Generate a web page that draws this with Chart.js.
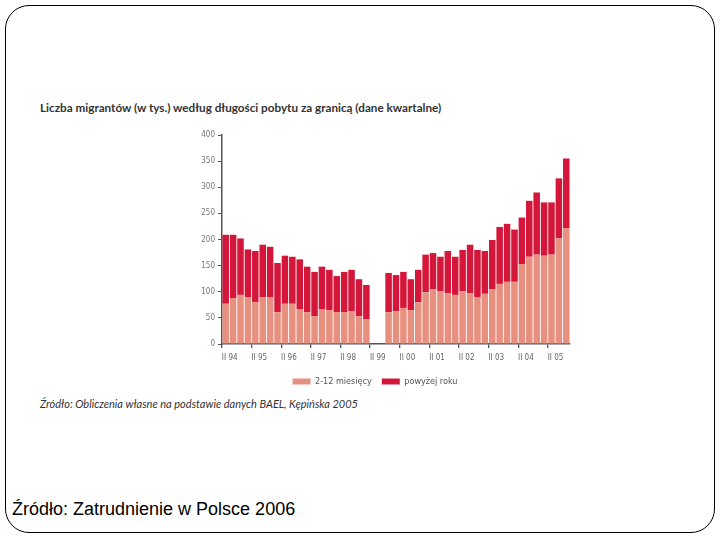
<!DOCTYPE html>
<html>
<head>
<meta charset="utf-8">
<script src="https://cdn.jsdelivr.net/npm/chart.js@4/dist/chart.umd.min.js"></script>
<style>
  body { margin: 0; background: #fff; width: 720px; height: 540px; position: relative; overflow: hidden; }
  .frame { position: absolute; left: 5px; top: 5px; width: 708px; height: 526px; border: 1.3px solid #000; border-radius: 24px; }
  .title { position: absolute; left: 40px; top: 100px; font: bold 11.7px Lato, sans-serif; color: #333; white-space: nowrap; }
  .note { position: absolute; left: 40px; top: 397px; font: italic 11px Lato, sans-serif; color: #333; white-space: nowrap; }
  .source { position: absolute; left: 12px; top: 499px; font: 18px "Liberation Sans", Arial, sans-serif; color: #000; white-space: nowrap; }
  #wrap { position: absolute; left: 180px; top: 122px; width: 395px; height: 274px; }
</style>
</head>
<body>
<div class="frame"></div>
<div class="title">Liczba migrantów (w tys.) według długości pobytu za granicą (dane kwartalne)</div>
<div id="wrap"><canvas id="chart"></canvas></div>
<div class="note">Źródło: Obliczenia własne na podstawie danych BAEL, Kępińska 2005</div>
<div class="source">Źródło: Zatrudnienie w Polsce 2006</div>
<script>
// Quarters from II 94 to IV 05
const years = ['94', '95', '96', '97', '98', '99', '00', '01', '02', '03', '04', '05'];
const quarters = ['I', 'II', 'III', 'IV'];
const labels = [];
years.forEach(y => quarters.forEach(q => labels.push(q + ' ' + y)));
const categories = labels.slice(1); // starts at II 94

// values in thousands (II 99 and III 99 missing)
const shortStay = [77, 87, 94, 90, 80, 90, 90, 61, 77, 77, 67, 61, 53, 67, 65, 61, 61, 63, 53, 47,
  null, null, 61, 63, 69, 65, 80, 99, 105, 101, 97, 94, 101, 97, 90, 96, 105, 115, 119, 119,
  153, 167, 171, 169, 171, 202, 222];
const longStay = [132, 122, 108, 91, 98, 100, 96, 94, 92, 90, 95, 87, 85, 81, 77, 69, 77, 79, 71, 66,
  null, null, 75, 69, 69, 59, 62, 72, 69, 66, 81, 73, 79, 93, 90, 82, 94, 109, 111, 100,
  89, 107, 119, 102, 100, 115, 133];

const yTicks = [0, 50, 100, 150, 200, 250, 300, 350, 400];

const tickFont = { family: '"DejaVu Sans Condensed", "DejaVu Sans", sans-serif', size: 8 };

new Chart(document.getElementById('chart'), {
    type: 'bar',
    data: {
        labels: categories,
        datasets: [
            { label: '2-12 miesięcy', data: shortStay, backgroundColor: '#E8907F', barPercentage: 0.88, categoryPercentage: 1 },
            { label: 'powyżej roku', data: longStay, backgroundColor: '#D3163A', barPercentage: 0.88, categoryPercentage: 1 }
        ]
    },
    options: {
        responsive: true,
        maintainAspectRatio: false,
        animation: false,
        layout: { padding: { top: 13, right: 5, left: 0, bottom: 0 } },
        plugins: {
            tooltip: { enabled: false },
            legend: {
                position: 'bottom',
                labels: {
                    boxWidth: 18, boxHeight: 6, padding: 10, color: '#555',
                    font: { family: '"DejaVu Sans Condensed", "DejaVu Sans", sans-serif', size: 9 }
                }
            }
        },
        scales: {
            x: {
                stacked: true,
                afterFit: (scale) => { scale.height = 23; },
                border: { display: true, color: '#555', width: 1.5 },
                grid: {
                    offset: true,
                    drawOnChartArea: false,
                    tickLength: 4,
                    color: (ctx) => (ctx.index % 4 === 0 ? '#555' : 'rgba(0,0,0,0)'),
                    lineWidth: 1.3
                },
                ticks: {
                    autoSkip: false,
                    maxRotation: 0,
                    color: '#666',
                    font: tickFont,
                    padding: 5,
                    labelOffset: 4,
                    callback: function (value, index) { return index % 4 === 0 ? categories[index] : ''; }
                }
            },
            y: {
                stacked: true,
                min: 0,
                max: 400,
                afterFit: (scale) => { scale.width = 42; },
                afterBuildTicks: (scale) => { scale.ticks = yTicks.map(v => ({ value: v })); },
                border: { display: true, color: '#555', width: 1.5 },
                grid: { drawOnChartArea: false, tickLength: 4, color: '#555' },
                ticks: { color: '#777', font: tickFont, padding: 3 }
            }
        }
    }
});
</script>
</body>
</html>
